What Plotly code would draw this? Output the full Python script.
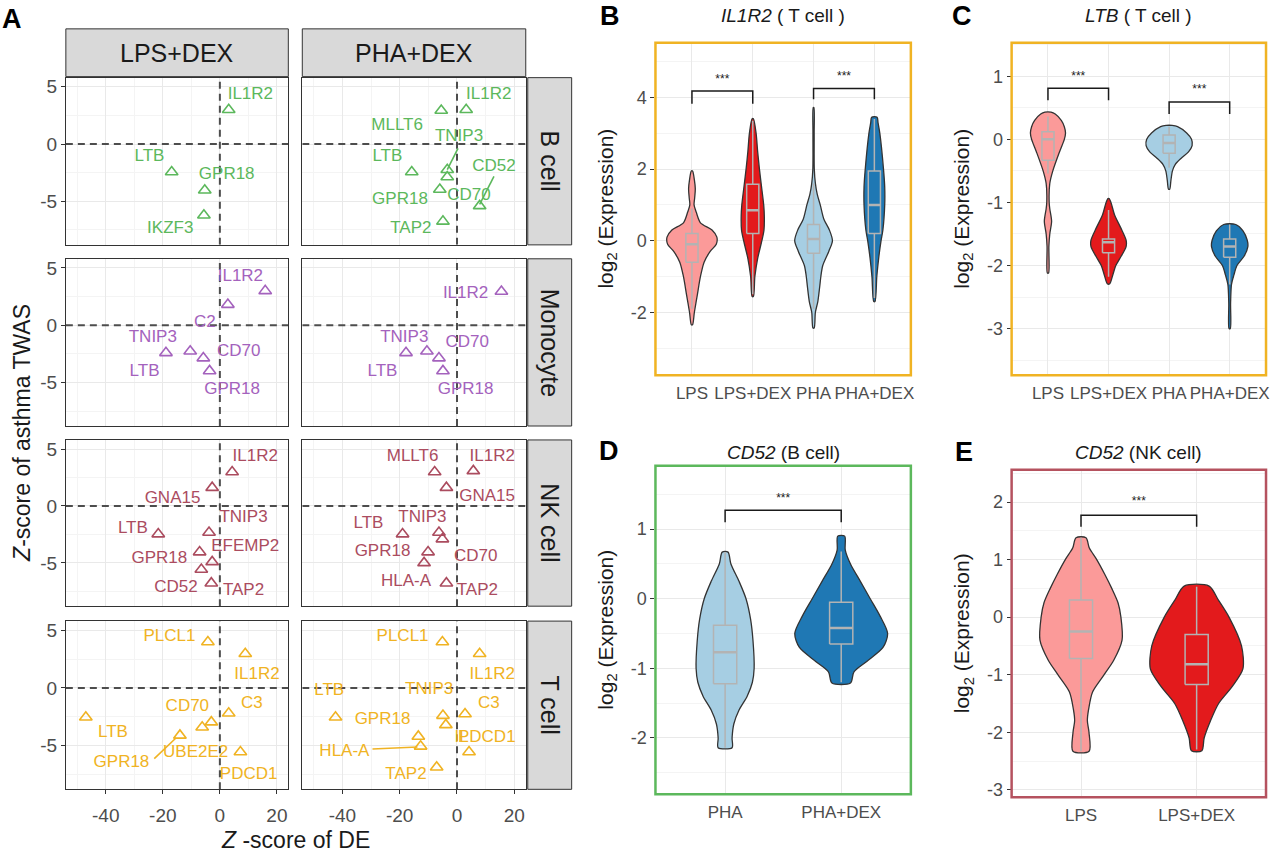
import plotly.graph_objects as go

W, H = 1280, 860
FONT = "Liberation Sans, Arial, sans-serif"

# ---------------- Panel A data (Z-score of DE vs Z-score of asthma TWAS) ----------------
stim_cols = ["LPS+DEX", "PHA+DEX"]
cell_rows = ["B cell", "Monocyte", "NK cell", "T cell"]
A_x_ticks = [-40, -20, 0, 20]
A_x_ticklabels = ["-40", "-20", "0", "20"]
A_y_ticks = [-5, 0, 5]
A_y_ticklabels = ["-5", "0", "5"]

# B cell / LPS+DEX
bcell_lps_gene = ["IL1R2", "LTB", "GPR18", "IKZF3"]
bcell_lps_de = [3.1, -16.9, -5.3, -5.6]
bcell_lps_twas = [2.99, -2.44, -4.03, -6.21]
bcell_lps_lab_x = [10.7, -24.7, 2.4, -17.4]
bcell_lps_lab_y = [4.31, -1.12, -2.67, -7.41]
bcell_lps_seg_x, bcell_lps_seg_y = [], []
# B cell / PHA+DEX
bcell_pha_gene = ["IL1R2", "MLLT6", "TNIP3", "LTB", "CD52", "GPR18", "CD70", "TAP2"]
bcell_pha_de = [3.2, -5.5, -3.4, -15.8, 7.9, -6.0, -3.4, -4.9]
bcell_pha_twas = [2.99, 2.93, -2.24, -2.44, -5.4, -3.97, -2.87, -6.75]
bcell_pha_lab_x = [11.1, -20.9, 0.7, -24.3, 12.9, -19.9, 4.2, -16.1]
bcell_pha_lab_y = [4.31, 1.64, 0.63, -1.12, -1.96, -4.89, -4.48, -7.41]
bcell_pha_seg_x = [0.35, -3.4, None, 12.9, 7.9]
bcell_pha_seg_y = [-0.37, -2.24, None, -2.82, -5.26]
# Monocyte / LPS+DEX
mono_lps_gene = ["IL1R2", "C2", "TNIP3", "CD70", "LTB", "GPR18"]
mono_lps_de = [15.9, 2.8, -18.9, -5.8, -10.4, -3.6]
mono_lps_twas = [3.0, 1.8, -2.41, -2.87, -2.27, -3.99]
mono_lps_lab_x = [7.2, -5.3, -23.5, 6.6, -26.4, 4.3]
mono_lps_lab_y = [4.25, 0.23, -1.06, -2.33, -4.05, -5.66]
mono_lps_seg_x, mono_lps_seg_y = [], []
# Monocyte / PHA+DEX
mono_pha_gene = ["IL1R2", "TNIP3", "CD70", "LTB", "GPR18"]
mono_pha_de = [15.5, -17.8, -6.3, -10.5, -4.9]
mono_pha_twas = [2.94, -2.41, -2.87, -2.27, -3.99]
mono_pha_lab_x = [3.0, -18.4, 3.6, -26.0, 3.0]
mono_pha_lab_y = [2.73, -1.06, -1.49, -4.08, -5.66]
mono_pha_seg_x, mono_pha_seg_y = [], []
# NK cell / LPS+DEX
nk_lps_gene = ["IL1R2", "GNA15", "LTB", "TNIP3", "GPR18", "EFEMP2", "CD52", "TAP2"]
nk_lps_de = [4.3, -2.7, -21.6, -3.8, -7.1, -2.7, -6.5, -3.0]
nk_lps_twas = [2.99, 1.61, -2.47, -2.33, -4.05, -4.91, -5.58, -6.78]
nk_lps_lab_x = [12.4, -16.6, -30.5, 8.3, -21.2, 8.9, -15.4, 8.3]
nk_lps_lab_y = [4.28, 0.6, -2.04, -1.03, -4.63, -3.56, -7.22, -7.41]
nk_lps_seg_x, nk_lps_seg_y = [], []
# NK cell / PHA+DEX
nk_pha_gene = ["MLLT6", "IL1R2", "GNA15", "LTB", "TNIP3", "CD70", "GPR18", "HLA-A", "TAP2"]
nk_pha_de = [-7.8, 5.7, -3.7, -19.0, -6.3, -5.1, -10.1, -11.5, -3.7]
nk_pha_twas = [2.99, 3.08, 1.61, -2.47, -2.33, -2.91, -4.05, -5.0, -6.78]
nk_pha_lab_x = [-15.5, 12.3, 10.5, -30.9, -12.1, 6.5, -26.0, -17.8, 7.1]
nk_pha_lab_y = [4.28, 4.28, 0.84, -1.55, -1.03, -4.42, -4.05, -6.64, -7.41]
nk_pha_seg_x, nk_pha_seg_y = [], []
# T cell / LPS+DEX
t_lps_gene = ["PLCL1", "IL1R2", "LTB", "CD70", "UBE2E2", "C3", "GPR18", "PDCD1"]
t_lps_de = [-4.2, 8.9, -47.0, -6.2, -3.0, 3.1, -14.0, 7.2]
t_lps_twas = [3.98, 2.97, -2.54, -3.41, -2.97, -2.2, -4.12, -5.56]
t_lps_lab_x = [-17.7, 13.0, -37.5, -11.4, -8.5, 11.2, -34.5, 10.1]
t_lps_lab_y = [4.41, 1.16, -3.92, -1.62, -5.65, -1.34, -6.51, -7.52]
t_lps_seg_x = [-23.0, -15.4]
t_lps_seg_y = [-6.14, -4.35]
# T cell / PHA+DEX
t_pha_gene = ["PLCL1", "IL1R2", "LTB", "TNIP3", "IL", "C3", "GPR18", "HLA-A", "PDCD1", "TAP2"]
t_pha_de = [-5.1, 7.9, -42.4, -4.9, -3.9, 2.8, -13.5, -12.7, 4.2, -7.1]
t_pha_twas = [3.98, 2.97, -2.54, -2.4, -3.21, -2.26, -4.21, -5.07, -5.56, -6.88]
t_pha_lab_x = [-19.0, 12.3, -44.6, -9.7, 1.6, 11.1, -26.0, -39.3, 10.4, -17.8]
t_pha_lab_y = [4.41, 1.16, -0.28, -0.19, -4.29, -1.34, -2.78, -5.5, -4.29, -7.52]
t_pha_seg_x = [-29.5, -13.8]
t_pha_seg_y = [-5.3, -5.13]

A_x_range = [-54, 24]
A_y_range = [-8.8, 5.8]

# ---------------- Violin panels data ----------------
cats_BC = ["LPS", "LPS+DEX", "PHA", "PHA+DEX"]
cats_D = ["PHA", "PHA+DEX"]
cats_E = ["LPS", "LPS+DEX"]

# density outlines: y levels (log2 expression) and half-widths (category units)
B_lps_y = [-2.35, -2.0, -1.5, -1.0, -0.6, -0.3, -0.1, 0.1, 0.3, 0.5, 0.8, 1.0, 1.2, 1.45, 1.7, 1.95]
B_lps_w = [0.01, 0.04, 0.09, 0.14, 0.2, 0.3, 0.4, 0.41, 0.33, 0.14, 0.07, 0.035, 0.045, 0.055, 0.04, 0.01]
B_lpsdex_y = [-1.56, -1.0, -0.5, 0.0, 0.3, 0.7, 1.0, 1.5, 2.0, 2.5, 3.0, 3.41]
B_lpsdex_w = [0.01, 0.035, 0.08, 0.15, 0.185, 0.19, 0.18, 0.145, 0.11, 0.08, 0.055, 0.01]
B_pha_y = [-2.44, -2.0, -1.7, -1.3, -1.0, -0.7, -0.3, 0.0, 0.3, 0.6, 1.0, 1.3, 1.6, 2.0, 3.0, 3.72]
B_pha_w = [0.01, 0.03, 0.07, 0.1, 0.12, 0.15, 0.25, 0.31, 0.26, 0.17, 0.11, 0.06, 0.03, 0.012, 0.01, 0.005]
B_phadex_y = [-1.7, -1.0, -0.5, 0.0, 0.3, 1.0, 1.5, 2.0, 3.0, 3.3, 3.45]
B_phadex_w = [0.01, 0.04, 0.07, 0.11, 0.14, 0.17, 0.17, 0.15, 0.09, 0.06, 0.045]

C_lps_y = [-2.12, -1.7, -1.5, -1.3, -1.1, -1.0, -0.7, -0.5, -0.2, 0.0, 0.1, 0.2, 0.3, 0.4, 0.43]
C_lps_w = [0.01, 0.015, 0.03, 0.06, 0.03, 0.02, 0.03, 0.08, 0.19, 0.27, 0.29, 0.27, 0.22, 0.12, 0.05]
C_lpsdex_y = [-2.29, -2.15, -2.0, -1.9, -1.7, -1.6, -1.4, -1.2, -1.0, -0.94]
C_lpsdex_w = [0.02, 0.07, 0.12, 0.18, 0.29, 0.29, 0.2, 0.1, 0.04, 0.01]
C_pha_y = [-0.79, -0.65, -0.5, -0.4, -0.3, -0.2, -0.1, 0.0, 0.1, 0.2, 0.22]
C_pha_w = [0.01, 0.03, 0.055, 0.1, 0.2, 0.32, 0.38, 0.37, 0.29, 0.14, 0.05]
C_phadex_y = [-3.0, -2.6, -2.3, -2.15, -2.0, -1.85, -1.7, -1.6, -1.45, -1.35]
C_phadex_w = [0.01, 0.015, 0.03, 0.07, 0.12, 0.24, 0.3, 0.29, 0.22, 0.1]

D_pha_y = [-2.14, -2.0, -1.8, -1.6, -1.4, -1.2, -1.0, -0.6, -0.3, 0.0, 0.25, 0.5, 0.67]
D_pha_w = [0.06, 0.06, 0.075, 0.12, 0.19, 0.235, 0.25, 0.24, 0.22, 0.18, 0.12, 0.05, 0.025]
D_phadex_y = [-1.21, -1.05, -0.9, -0.7, -0.5, -0.25, 0.0, 0.25, 0.5, 0.7, 0.9]
D_phadex_w = [0.08, 0.11, 0.22, 0.36, 0.4, 0.335, 0.25, 0.165, 0.08, 0.035, 0.03]

E_lps_y = [-2.33, -2.0, -1.8, -1.6, -1.3, -1.0, -0.75, -0.4, 0.0, 0.25, 0.5, 0.75, 1.0, 1.2, 1.38]
E_lps_w = [0.07, 0.069, 0.055, 0.066, 0.1, 0.2, 0.283, 0.355, 0.345, 0.32, 0.266, 0.204, 0.136, 0.072, 0.043]
E_lpsdex_y = [-2.32, -2.1, -1.8, -1.5, -1.2, -0.9, -0.5, 0.0, 0.3, 0.54]
E_lpsdex_w = [0.045, 0.065, 0.12, 0.19, 0.31, 0.4, 0.388, 0.28, 0.187, 0.108]

# box stats: q1, median, q3, lower whisker, upper whisker
B_box = [(-0.6, -0.1, 0.2, -1.9, 0.9), (0.2, 0.85, 1.58, -1.5, 3.35),
         (-0.35, 0.05, 0.45, -1.9, 1.6), (0.2, 1.0, 1.95, -1.6, 3.4)]
C_box = [(-0.33, 0.0, 0.12, -0.54, 0.36), (-1.8, -1.63, -1.58, -2.18, -1.12),
         (-0.22, -0.06, 0.07, -0.45, 0.2), (-1.87, -1.7, -1.58, -2.3, -1.35)]
D_box = [(-1.22, -0.77, -0.38, -2.14, 0.67), (-0.65, -0.42, -0.05, -1.2, 0.68)]
E_box = [(-0.72, -0.25, 0.3, -2.33, 1.38), (-1.17, -0.82, -0.3, -2.3, 0.53)]

# significance brackets: (group a, group b, leg bottom, bracket top, label y)
B_sig = [(1, 2, 3.83, 4.18, 4.5), (3, 4, 3.95, 4.25, 4.57)]
C_sig = [(1, 2, 0.62, 0.81, 0.98), (3, 4, 0.4, 0.59, 0.78)]
D_sig = [(1, 2, 1.1, 1.27, 1.43)]
E_sig = [(1, 2, 1.57, 1.77, 2.0)]

B_yrange = [-3.76, 5.53]
C_yrange = [-3.74, 1.53]
D_yrange = [-2.81, 1.91]
E_yrange = [-3.13, 2.56]
B_yticks, B_yticklabels = [-2, 0, 2, 4], ["-2", "0", "2", "4"]
C_yticks, C_yticklabels = [-3, -2, -1, 0, 1], ["-3", "-2", "-1", "0", "1"]
D_yticks, D_yticklabels = [-2, -1, 0, 1], ["-2", "-1", "0", "1"]
E_yticks, E_yticklabels = [-3, -2, -1, 0, 1, 2], ["-3", "-2", "-1", "0", "1", "2"]

# ---------------- styling ----------------
COL_B = "#5cb85c"
COL_MONO = "#a462bd"
COL_NK = "#ab4c5f"
COL_T = "#f0b323"
COND_COL = {"LPS": "#fb9a99", "LPS+DEX": "#e31a1c", "PHA": "#a6cee3", "PHA+DEX": "#1f78b4"}
TICK_COL = "#4d4d4d"
GRID = "#e9e9e9"
GRID_MINOR = "#f4f4f4"


def px(x):
    return x / W


def py(y):
    return 1 - y / H


def ann(text, x, y, size, color="#1a1a1a", angle=0):
    return dict(text=text, x=px(x), y=py(y), xref="paper", yref="paper", showarrow=False,
                xanchor="center", yanchor="middle", textangle=angle,
                font=dict(family=FONT, size=size, color=color))


fig = go.Figure()
annotations = []
shapes = []
layout_axes = {}

# ---------------- Panel A ----------------
col_x = [(66, 289), (303, 527)]
row_y = [(77, 245), (259, 427), (441, 608), (623, 792)]
row_colors = [COL_B, COL_MONO, COL_NK, COL_T]

facets = [
    (0, 0, bcell_lps_gene, bcell_lps_de, bcell_lps_twas, bcell_lps_lab_x, bcell_lps_lab_y, bcell_lps_seg_x, bcell_lps_seg_y),
    (0, 1, bcell_pha_gene, bcell_pha_de, bcell_pha_twas, bcell_pha_lab_x, bcell_pha_lab_y, bcell_pha_seg_x, bcell_pha_seg_y),
    (1, 0, mono_lps_gene, mono_lps_de, mono_lps_twas, mono_lps_lab_x, mono_lps_lab_y, mono_lps_seg_x, mono_lps_seg_y),
    (1, 1, mono_pha_gene, mono_pha_de, mono_pha_twas, mono_pha_lab_x, mono_pha_lab_y, mono_pha_seg_x, mono_pha_seg_y),
    (2, 0, nk_lps_gene, nk_lps_de, nk_lps_twas, nk_lps_lab_x, nk_lps_lab_y, nk_lps_seg_x, nk_lps_seg_y),
    (2, 1, nk_pha_gene, nk_pha_de, nk_pha_twas, nk_pha_lab_x, nk_pha_lab_y, nk_pha_seg_x, nk_pha_seg_y),
    (3, 0, t_lps_gene, t_lps_de, t_lps_twas, t_lps_lab_x, t_lps_lab_y, t_lps_seg_x, t_lps_seg_y),
    (3, 1, t_pha_gene, t_pha_de, t_pha_twas, t_pha_lab_x, t_pha_lab_y, t_pha_seg_x, t_pha_seg_y),
]

for (r, c, genes, de, twas, lx, ly, sx, sy) in facets:
    idx = r * 2 + c + 1
    xa, ya = f"x{idx}", f"y{idx}"
    col = row_colors[r]
    # reference dashed lines at zero
    fig.add_trace(go.Scatter(x=[0, 0], y=A_y_range, xaxis=xa, yaxis=ya, mode="lines",
                             line=dict(color="#4d4d4d", width=2, dash="7px,5px"),
                             hoverinfo="skip", showlegend=False))
    fig.add_trace(go.Scatter(x=A_x_range, y=[0, 0], xaxis=xa, yaxis=ya, mode="lines",
                             line=dict(color="#4d4d4d", width=2, dash="7px,5px"),
                             hoverinfo="skip", showlegend=False))
    if sx:
        fig.add_trace(go.Scatter(x=sx, y=sy, xaxis=xa, yaxis=ya, mode="lines",
                                 line=dict(color=col, width=1.6), hoverinfo="skip",
                                 showlegend=False, connectgaps=False))
    fig.add_trace(go.Scatter(x=de, y=twas, xaxis=xa, yaxis=ya, mode="markers",
                             marker=dict(symbol="triangle-up-open", size=11, color=col,
                                         line=dict(width=1.6, color=col)),
                             text=genes, showlegend=False))
    fig.add_trace(go.Scatter(x=lx, y=ly, xaxis=xa, yaxis=ya, mode="text", text=genes,
                             textfont=dict(family=FONT, size=17, color=col),
                             hoverinfo="skip", showlegend=False))
    xk = "xaxis" if idx == 1 else f"xaxis{idx}"
    yk = "yaxis" if idx == 1 else f"yaxis{idx}"
    x0, x1 = col_x[c]
    y0, y1 = row_y[r]
    layout_axes[xk] = dict(
        domain=[px(x0), px(x1)], range=A_x_range, anchor=ya,
        tickmode="array", tickvals=A_x_ticks, ticktext=A_x_ticklabels,
        showgrid=True, gridcolor=GRID, gridwidth=1, zeroline=False,
        minor=dict(dtick=10, tick0=0, showgrid=True, gridcolor=GRID_MINOR, gridwidth=0.8),
        showline=True, mirror=True, linecolor="#333333", linewidth=1,
        ticks="outside" if r == 3 else "", ticklen=4, tickcolor="#333333",
        ticklabelstandoff=5,
        showticklabels=(r == 3), tickfont=dict(family=FONT, size=19, color=TICK_COL),
    )
    layout_axes[yk] = dict(
        domain=[py(y1), py(y0)], range=A_y_range, anchor=xa,
        tickmode="array", tickvals=A_y_ticks, ticktext=A_y_ticklabels,
        showgrid=True, gridcolor=GRID, gridwidth=1, zeroline=False,
        minor=dict(dtick=2.5, tick0=0, showgrid=True, gridcolor=GRID_MINOR, gridwidth=0.8),
        showline=True, mirror=True, linecolor="#333333", linewidth=1,
        ticks="outside" if c == 0 else "", ticklen=4, tickcolor="#333333",
        showticklabels=(c == 0), tickfont=dict(family=FONT, size=19, color=TICK_COL),
    )

# facet strips
for c, lab in enumerate(stim_cols):
    x0, x1 = col_x[c]
    shapes.append(dict(type="rect", xref="paper", yref="paper", x0=px(x0), x1=px(x1),
                       y0=py(76), y1=py(28), fillcolor="#d9d9d9",
                       line=dict(color="#333333", width=1), layer="above"))
    annotations.append(ann(lab, (x0 + x1) / 2, 52, 25))
for r, lab in enumerate(cell_rows):
    y0, y1 = row_y[r]
    shapes.append(dict(type="rect", xref="paper", yref="paper", x0=px(529), x1=px(573),
                       y0=py(y1), y1=py(y0), fillcolor="#d9d9d9",
                       line=dict(color="#333333", width=1), layer="above"))
    annotations.append(ann(lab, 551, (y0 + y1) / 2, 25, angle=90))

annotations.append(ann("<i>Z</i>-score of asthma TWAS", 22, 434, 23, angle=-90))
annotations.append(ann("<i>Z</i> -score of DE", 296, 843, 23))

# ---------------- Violin panels ----------------
violin_panels = [
    (9, (657, 913), (42, 376), cats_BC,
     [(B_lps_y, B_lps_w), (B_lpsdex_y, B_lpsdex_w), (B_pha_y, B_pha_w), (B_phadex_y, B_phadex_w)],
     B_box, B_sig, B_yrange, B_yticks, B_yticklabels, 1, COL_T, "<i>IL1R2</i> ( T cell )", 15),
    (10, (1014, 1269), (42, 376), cats_BC,
     [(C_lps_y, C_lps_w), (C_lpsdex_y, C_lpsdex_w), (C_pha_y, C_pha_w), (C_phadex_y, C_phadex_w)],
     C_box, C_sig, C_yrange, C_yticks, C_yticklabels, 0.5, COL_T, "<i>LTB</i> ( T cell )", 15),
    (11, (657, 913), (467, 797), cats_D,
     [(D_pha_y, D_pha_w), (D_phadex_y, D_phadex_w)],
     D_box, D_sig, D_yrange, D_yticks, D_yticklabels, 0.5, COL_B, "<i>CD52</i> (B cell)", 454),
    (12, (1014, 1269), (471, 800), cats_E,
     [(E_lps_y, E_lps_w), (E_lpsdex_y, E_lpsdex_w)],
     E_box, E_sig, E_yrange, E_yticks, E_yticklabels, 0.5, "#b5525f", "<i>CD52</i> (NK cell)", 454),
]

BOX_COL = "#b3b3b3"
BOX_HW = 0.1
for (idx, (x0, x1), (y0, y1), cats, profiles, boxes, sigs, yr, ytv, ytt, mdt, frame, title, ty_title) in violin_panels:
    xa, ya = f"x{idx}", f"y{idx}"
    for i, (cat, (yy, ww)) in enumerate(zip(cats, profiles), start=1):
        xs = [i + w for w in ww] + [i - w for w in reversed(ww)] + [i + ww[0]]
        ys = list(yy) + list(reversed(yy)) + [yy[0]]
        fig.add_trace(go.Scatter(x=xs, y=ys, xaxis=xa, yaxis=ya, mode="lines", fill="toself",
                                 fillcolor=COND_COL[cat],
                                 line=dict(color="#333333", width=1.3, shape="spline", smoothing=0.8),
                                 hoverinfo="skip", showlegend=False))
        q1, med, q3, wlo, whi = boxes[i - 1]
        fig.add_trace(go.Scatter(
            x=[i, i, None, i, i, None,
               i - BOX_HW, i + BOX_HW, i + BOX_HW, i - BOX_HW, i - BOX_HW],
            y=[q3, whi, None, q1, wlo, None, q1, q1, q3, q3, q1],
            xaxis=xa, yaxis=ya, mode="lines", line=dict(color=BOX_COL, width=1.5),
            hoverinfo="skip", showlegend=False))
        fig.add_trace(go.Scatter(x=[i - BOX_HW, i + BOX_HW], y=[med, med], xaxis=xa, yaxis=ya,
                                 mode="lines", line=dict(color=BOX_COL, width=2.5),
                                 hoverinfo="skip", showlegend=False))
    for (a, b, lo, top, ty) in sigs:
        fig.add_trace(go.Scatter(x=[a, a, b, b], y=[lo, top, top, lo], xaxis=xa, yaxis=ya,
                                 mode="lines", line=dict(color="#1a1a1a", width=1.5),
                                 hoverinfo="skip", showlegend=False))
        fig.add_trace(go.Scatter(x=[(a + b) / 2], y=[ty], xaxis=xa, yaxis=ya, mode="text",
                                 text=["***"], textfont=dict(family=FONT, size=12, color="#1a1a1a"),
                                 hoverinfo="skip", showlegend=False))
    n = len(cats)
    layout_axes[f"xaxis{idx}"] = dict(
        domain=[px(x0), px(x1)], range=[0.4, n + 0.6], anchor=ya,
        tickmode="array", tickvals=list(range(1, n + 1)), ticktext=cats,
        showgrid=True, gridcolor=GRID, gridwidth=1, zeroline=False, showline=False,
        ticks="", ticklabelstandoff=6, tickfont=dict(family=FONT, size=17, color=TICK_COL),
    )
    layout_axes[f"yaxis{idx}"] = dict(
        domain=[py(y1), py(y0)], range=yr, anchor=xa,
        tickmode="array", tickvals=ytv, ticktext=ytt,
        showgrid=True, gridcolor=GRID, gridwidth=1, zeroline=False, showline=False,
        minor=dict(dtick=mdt, tick0=0, showgrid=True, gridcolor=GRID_MINOR, gridwidth=0.8),
        ticks="outside", ticklen=4, tickcolor="#333333",
        tickfont=dict(family=FONT, size=18, color=TICK_COL),
    )
    shapes.append(dict(type="rect", xref=f"{xa} domain", yref=f"{ya} domain", x0=0, x1=1, y0=0, y1=1,
                       line=dict(color=frame, width=2.5), layer="above"))
    annotations.append(ann(title, (x0 + x1) / 2, ty_title, 19))
    annotations.append(ann("log<sub>2</sub> (Expression)", x0 - 49, (y0 + y1) / 2, 21, angle=-90))

# panel letters
for letter, (lx, ly) in {"A": (12, 18), "B": (611, 15), "C": (964, 15),
                         "D": (610, 452), "E": (966, 453)}.items():
    annotations.append(ann(f"<b>{letter}</b>", lx, ly, 27, color="#000000"))

fig.update_layout(
    width=W, height=H, margin=dict(l=0, r=0, t=0, b=0),
    paper_bgcolor="white", plot_bgcolor="white",
    font=dict(family=FONT), showlegend=False, hovermode=False,
    annotations=annotations, shapes=shapes, **layout_axes,
)

# remove the default 8px page margin so the figure sits at the window's top-left corner
fig.write_html("out.html", config={"displayModeBar": False},
               post_script="document.body.style.margin='0px';")
